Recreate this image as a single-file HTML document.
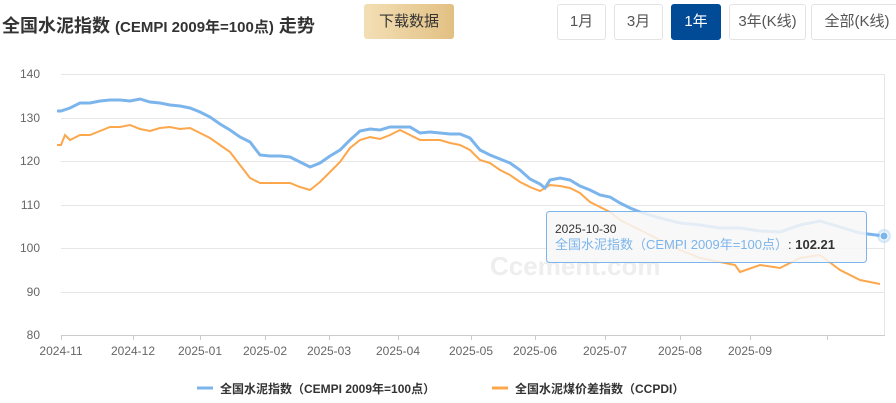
<!DOCTYPE html><html><head><meta charset="utf-8"><style>
body{margin:0;width:896px;height:403px;background:#fff;font-family:"Liberation Sans","Noto Sans CJK SC",sans-serif;position:relative;overflow:hidden}
.t{position:absolute;left:2px;top:12px;font-size:18px;font-weight:bold;color:#333}
.t span{font-size:15px}
.dl{position:absolute;left:364px;top:4px;width:90px;height:35px;background:linear-gradient(90deg,#f3dfb5,#e2c083);border-radius:3px;font-size:15px;color:#333;text-align:center;line-height:35px}
.b{position:absolute;top:4px;height:34px;border:1px solid #e3e3e3;border-radius:3px;font-size:15px;color:#555;text-align:center;line-height:34px;background:#fff}
</style></head><body>
<div class="t">全国水泥指数 <span>(CEMPI 2009年=100点)</span> 走势</div>
<div class="dl">下载数据</div>
<div class="b" style="left:557px;width:47px">1月</div>
<div class="b" style="left:614px;width:47px">3月</div>
<div class="b" style="left:671px;width:48px;background:#004a96;color:#fff;border-color:#004a96">1年</div>
<div class="b" style="left:729px;width:75px">3年(K线)</div>
<div class="b" style="left:811px;width:90px">全部(K线)</div>
<svg width="896" height="403" style="position:absolute;left:0;top:0" font-family="Liberation Sans,Noto Sans CJK SC,sans-serif">
<g stroke="#e6e6e6" stroke-width="1">
<line x1="61" x2="885" y1="74.5" y2="74.5"/><line x1="61" x2="885" y1="118.5" y2="118.5"/><line x1="61" x2="885" y1="161.5" y2="161.5"/><line x1="61" x2="885" y1="205.5" y2="205.5"/><line x1="61" x2="885" y1="248.5" y2="248.5"/><line x1="61" x2="885" y1="292.5" y2="292.5"/>
<line x1="884.5" x2="884.5" y1="74" y2="335"/>
</g>
<line x1="61" x2="885" y1="335.5" y2="335.5" stroke="#ccc"/>
<g stroke="#ccc"><line x1="61.5" x2="61.5" y1="335" y2="340"/><line x1="133.5" x2="133.5" y1="335" y2="340"/><line x1="200.5" x2="200.5" y1="335" y2="340"/><line x1="265.5" x2="265.5" y1="335" y2="340"/><line x1="329.5" x2="329.5" y1="335" y2="340"/><line x1="398.5" x2="398.5" y1="335" y2="340"/><line x1="471.5" x2="471.5" y1="335" y2="340"/><line x1="535.5" x2="535.5" y1="335" y2="340"/><line x1="605.5" x2="605.5" y1="335" y2="340"/><line x1="680.5" x2="680.5" y1="335" y2="340"/><line x1="750.5" x2="750.5" y1="335" y2="340"/><line x1="827.5" x2="827.5" y1="335" y2="340"/></g>
<g font-size="12" fill="#666" text-anchor="end"><text x="40" y="78">140</text><text x="40" y="122">130</text><text x="40" y="165">120</text><text x="40" y="209">110</text><text x="40" y="252">100</text><text x="40" y="296">90</text><text x="40" y="339">80</text></g>
<g font-size="12" fill="#666" text-anchor="middle"><text x="61" y="355">2024-11</text><text x="133" y="355">2024-12</text><text x="200" y="355">2025-01</text><text x="265" y="355">2025-02</text><text x="329" y="355">2025-03</text><text x="398" y="355">2025-04</text><text x="471" y="355">2025-05</text><text x="535" y="355">2025-06</text><text x="605" y="355">2025-07</text><text x="680" y="355">2025-08</text><text x="750" y="355">2025-09</text></g>
<text x="490" y="275" font-size="26" fill="#eee" font-weight="bold">Ccement.com</text>
<polyline fill="none" stroke="#fda74c" stroke-width="2" points="57,145 61,145 65,135 70,140 80,135 90,135 100,131 110,127 120,127 130,125 140,129 150,131 160,128 170,127 180,129 190,128 200,133 210,138 220,145 230,152 240,165 250,178 260,183 270,183 280,183 290,183 300,187 310,190 320,182 330,172 340,162 350,148 360,140 370,137 380,139 390,135 400,130 410,135 420,140 430,140 440,140 450,143 460,145 470,150 480,160 490,163 500,170 510,175 520,182 530,187 540,191 550,185 560,186 570,188 580,193 590,202 600,207 610,212 620,220 640,230 660,240 680,250 700,258 720,262 735,265 740,272 760,265 780,268 800,258 820,255 840,270 860,280 880,284"/>
<polyline fill="none" stroke="#7cb5ec" stroke-width="3" points="57,111 61,111 70,108 80,103 90,103 100,101 110,100 120,100 130,101 140,99 150,102 160,103 170,105 180,106 190,108 200,112 210,117 220,124 230,130 240,137 250,142 260,155 270,156 280,156 290,157 300,162 310,167 320,163 330,156 340,150 350,140 360,131 370,129 380,130 390,127 400,127 410,127 420,133 430,132 440,133 450,134 460,134 470,138 480,150 490,155 500,159 510,163 520,170 530,179 540,184 545,188 550,180 560,178 570,180 580,186 590,190 600,195 610,197 620,203 630,208 640,212 660,218 680,223 700,225 720,228 740,228 760,231 780,232 800,225 820,221 840,227 860,233 884,236"/>
<circle cx="884" cy="236" r="7" fill="#7cb5ec" opacity="0.3"/><circle cx="884" cy="236" r="4" fill="#7cb5ec" stroke="#fff"/>
<rect x="546.5" y="211.5" width="320" height="51" rx="3" fill="#f7f7f7" fill-opacity="0.85" stroke="#7cb5ec"/>
<text x="555" y="233" font-size="12" fill="#333">2025-10-30</text>
<text x="555" y="249" font-size="13" fill="#7cb5ec">全国水泥指数（CEMPI 2009年=100点）<tspan fill="#333">: </tspan><tspan fill="#333" font-weight="bold">102.21</tspan></text>
<line x1="197" x2="213" y1="388" y2="388" stroke="#7cb5ec" stroke-width="3"/>
<text x="220" y="393" font-size="12" font-weight="bold" fill="#333">全国水泥指数（CEMPI 2009年=100点）</text>
<line x1="492" x2="508" y1="388" y2="388" stroke="#fda74c" stroke-width="3"/>
<text x="515" y="393" font-size="12" font-weight="bold" fill="#333">全国水泥煤价差指数（CCPDI）</text>
</svg>
</body></html>
